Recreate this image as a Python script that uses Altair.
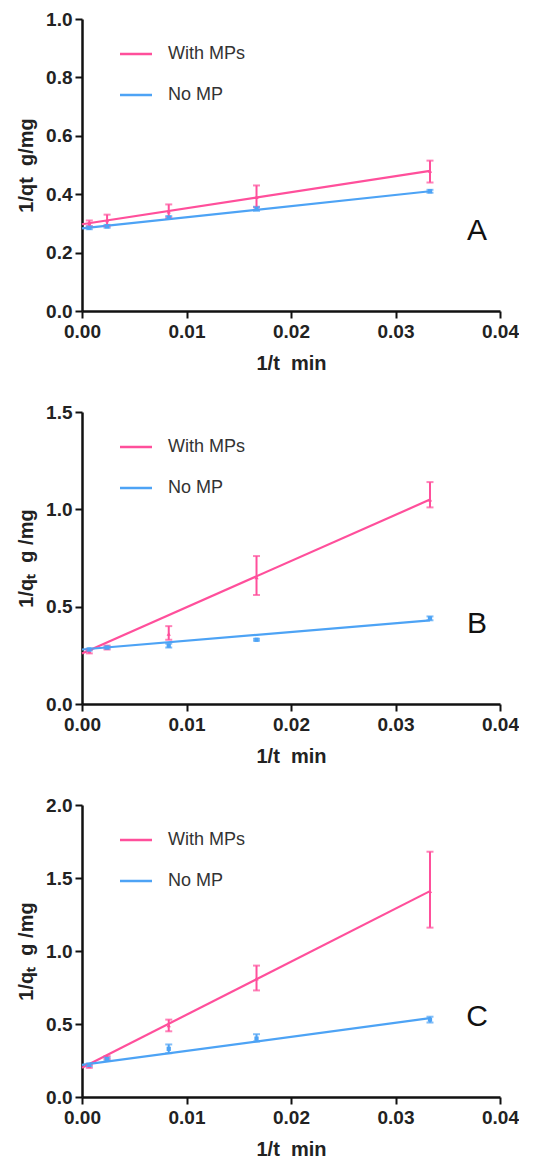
import altair as alt
import pandas as pd

# ---------------- data ----------------
series = ["With MPs", "No MP"]
colors = ["#FF4F9B", "#4DA3F5"]
shapes = ["triangle-up", "square"]

x_vals = [0.0333, 0.0167, 0.0083, 0.0024, 0.0007]
fit_x = [0.0, 0.0333]

# Panel A
a_mp_mean = [0.48, 0.39, 0.34, 0.31, 0.30]
a_mp_lo = [0.44, 0.355, 0.32, 0.29, 0.29]
a_mp_hi = [0.515, 0.43, 0.365, 0.33, 0.31]
a_nm_mean = [0.41, 0.35, 0.32, 0.29, 0.285]
a_nm_lo = [0.405, 0.343, 0.315, 0.285, 0.28]
a_nm_hi = [0.415, 0.357, 0.325, 0.295, 0.29]
a_fit_mp = [0.297, 0.48]
a_fit_nm = [0.283, 0.41]

# Panel B
b_mp_mean = [1.05, 0.65, 0.36, 0.29, 0.27]
b_mp_lo = [1.01, 0.56, 0.33, 0.28, 0.26]
b_mp_hi = [1.14, 0.76, 0.40, 0.30, 0.28]
b_nm_mean = [0.44, 0.33, 0.30, 0.29, 0.28]
b_nm_lo = [0.43, 0.325, 0.29, 0.285, 0.275]
b_nm_hi = [0.45, 0.335, 0.31, 0.295, 0.285]
b_fit_mp = [0.26, 1.05]
b_fit_nm = [0.28, 0.43]

# Panel C
c_mp_mean = [1.41, 0.81, 0.49, 0.27, 0.21]
c_mp_lo = [1.16, 0.73, 0.45, 0.26, 0.20]
c_mp_hi = [1.68, 0.90, 0.53, 0.28, 0.22]
c_nm_mean = [0.53, 0.40, 0.33, 0.26, 0.22]
c_nm_lo = [0.51, 0.38, 0.30, 0.25, 0.21]
c_nm_hi = [0.55, 0.43, 0.36, 0.27, 0.23]
c_fit_mp = [0.20, 1.41]
c_fit_nm = [0.22, 0.54]

x_ticks = [0.0, 0.01, 0.02, 0.03, 0.04]
a_y_ticks = [0.0, 0.2, 0.4, 0.6, 0.8, 1.0]
b_y_ticks = [0.0, 0.5, 1.0, 1.5]
c_y_ticks = [0.0, 0.5, 1.0, 1.5, 2.0]
NB = "\u00a0"
x_title = "1/t" + NB * 2 + "min"
y_titles = ["1/qt" + NB * 2 + "g/mg",
            "1/q\u209c" + NB * 2 + "g" + NB + "/mg",
            "1/q\u209c" + NB * 2 + "g" + NB + "/mg"]
letters = ["A", "B", "C"]

W, H = 418, 292
FONT = "Liberation Sans"


def panel(mp, nm, fit_mp, fit_nm, yticks, ytitle, letter):
    rows = []
    for s, (mean, lo, hi) in zip(series, [mp, nm]):
        for xv, m, l, h in zip(x_vals, mean, lo, hi):
            rows.append({"x": xv, "mean": m, "lo": l, "hi": h, "s": s})
    pts = pd.DataFrame(rows)
    fit = pd.DataFrame(
        [{"x": xv, "mean": yv, "s": series[0]} for xv, yv in zip(fit_x, fit_mp)]
        + [{"x": xv, "mean": yv, "s": series[1]} for xv, yv in zip(fit_x, fit_nm)]
    )
    ymax = yticks[-1]

    def X(f):
        return alt.X(f"{f}:Q", scale=alt.Scale(domain=[0, 0.04], nice=False),
                     axis=alt.Axis(values=x_ticks, format=".2f", title=x_title))

    def Y(f):
        return alt.Y(f"{f}:Q", scale=alt.Scale(domain=[0, ymax], nice=False),
                     axis=alt.Axis(values=yticks, format=".1f", title=ytitle))

    color = alt.Color("s:N", scale=alt.Scale(domain=series, range=colors), legend=None)
    shape = alt.Shape("s:N", scale=alt.Scale(domain=series, range=shapes), legend=None)

    lines = alt.Chart(fit).mark_line(strokeWidth=2.2).encode(
        x=X("x"), y=Y("mean"), color=color)
    bars = alt.Chart(pts).mark_errorbar(ticks=True, size=7, thickness=2).encode(
        x=X("x"), y=Y("lo"), y2="hi", color=color)
    marks = alt.Chart(pts).mark_point(filled=True, size=18, opacity=1).encode(
        x=X("x"), y=Y("mean"), color=color, shape=shape)

    layers = [lines, bars, marks]
    for i, (s, c) in enumerate(zip(series, colors)):
        yy = 35 + 41 * i
        d = pd.DataFrame({"s": [s]})
        layers.append(alt.Chart(d).mark_rule(color=c, strokeWidth=2.5).encode(
            x=alt.value(38), x2=alt.value(70), y=alt.value(yy)))
        layers.append(alt.Chart(d).mark_text(
            align="left", baseline="middle", fontSize=18, font=FONT, color="#333333"
        ).encode(x=alt.value(86), y=alt.value(yy), text="s:N"))
    layers.append(alt.Chart(pd.DataFrame({"t": [letter]})).mark_text(
        align="center", baseline="middle", fontSize=30, font=FONT, color="#111111"
    ).encode(x=alt.value(395), y=alt.value(212), text="t:N"))

    return alt.layer(*layers).properties(width=W, height=H)


pa = panel((a_mp_mean, a_mp_lo, a_mp_hi), (a_nm_mean, a_nm_lo, a_nm_hi),
           a_fit_mp, a_fit_nm, a_y_ticks, y_titles[0], letters[0])
pb = panel((b_mp_mean, b_mp_lo, b_mp_hi), (b_nm_mean, b_nm_lo, b_nm_hi),
           b_fit_mp, b_fit_nm, b_y_ticks, y_titles[1], letters[1])
pc = panel((c_mp_mean, c_mp_lo, c_mp_hi), (c_nm_mean, c_nm_lo, c_nm_hi),
           c_fit_mp, c_fit_nm, c_y_ticks, y_titles[2], letters[2])

chart = alt.vconcat(pa, pb, pc, spacing=30).properties(
    padding={"left": 16, "top": 10, "right": 0, "bottom": 0},
    background="white",
).configure_view(stroke=None).configure_axis(
    grid=False,
    domainColor="#111111",
    domainWidth=2.5,
    tickColor="#111111",
    tickWidth=2,
    tickSize=7,
    labelFont=FONT,
    labelFontSize=19,
    labelFontWeight="bold",
    labelColor="#222222",
    titleFont=FONT,
    titleFontSize=20,
    titleFontWeight="bold",
    titleColor="#222222",
).configure_axisX(labelPadding=4, titlePadding=12, labelFlush=False
).configure_axisY(labelPadding=3, titlePadding=9)

chart.save("out.html", embed_options={"renderer": "svg", "actions": False})
